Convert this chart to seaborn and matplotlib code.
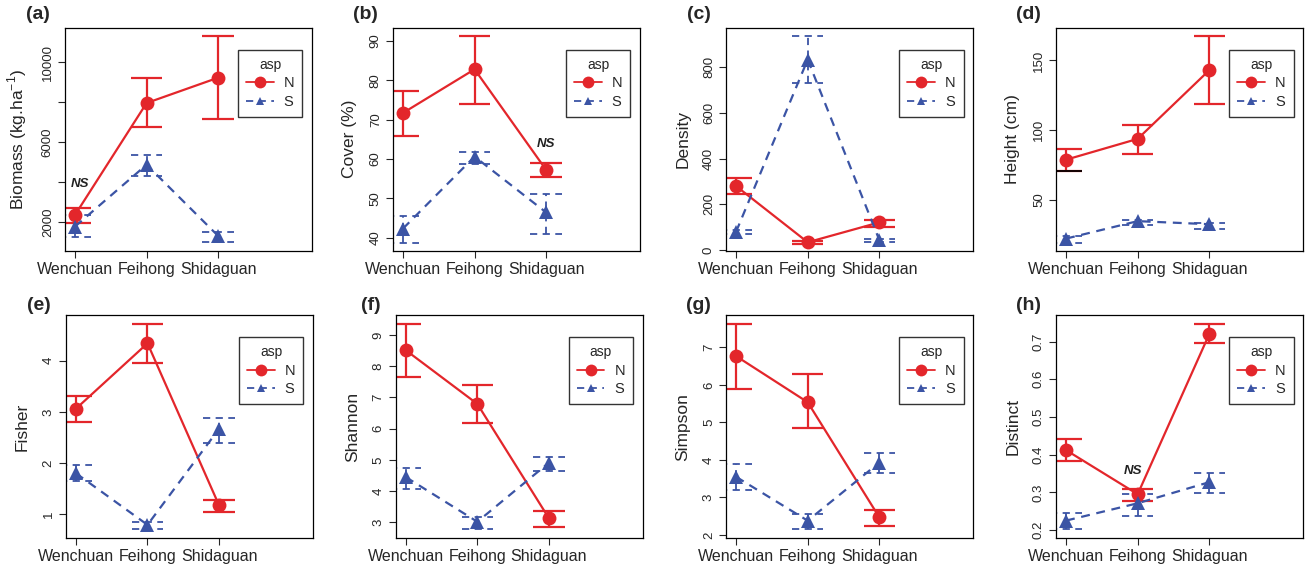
import numpy as np
import pandas as pd
import matplotlib
matplotlib.use("Agg")
import matplotlib.pyplot as plt
from matplotlib.lines import Line2D
import seaborn as sns

sns.set_style("ticks")
plt.rcParams["font.family"] = ["Liberation Sans", "DejaVu Sans"]
plt.rcParams["mathtext.fontset"] = "custom"
plt.rcParams["mathtext.rm"] = "Liberation Sans"

# ============================================================
# Data (means and error-bar ends)
# ============================================================
sites = ["Wenchuan", "Feihong", "Shidaguan"]

# (a) Biomass
biomass_n = [2350, 7960, 9230]
biomass_n_lo = [1965, 6760, 7160]
biomass_n_hi = [2720, 9200, 11340]
biomass_s = [1770, 4870, 1300]
biomass_s_lo = [1230, 4280, 985]
biomass_s_hi = [2350, 5370, 1515]

# (b) Cover
cover_n = [71.7, 82.8, 57.2]
cover_n_lo = [65.9, 74.1, 55.5]
cover_n_hi = [77.2, 91.3, 58.9]
cover_s = [42.3, 60.6, 46.4]
cover_s_lo = [38.7, 58.7, 41.0]
cover_s_hi = [45.5, 61.7, 51.0]

# (c) Density
density_n = [280, 34, 121]
density_n_lo = [244, 25, 100]
density_n_hi = [317, 41, 133]
density_s = [80, 834, 44]
density_s_lo = [71, 731, 34]
density_s_hi = [89, 937, 49]

# (d) Height
height_n = [78.9, 93.8, 143.0]
height_n_lo = [70.5, 83.0, 118.5]
height_n_hi = [86.8, 104.1, 167.4]
height_s = [22.4, 34.9, 32.7]
height_s_lo = [19.6, 32.0, 29.6]
height_s_hi = [24.0, 36.0, 33.5]

# (e) Fisher
fisher_n = [3.06, 4.34, 1.17]
fisher_n_lo = [2.80, 3.96, 1.05]
fisher_n_hi = [3.30, 4.71, 1.27]
fisher_s = [1.80, 0.79, 2.67]
fisher_s_lo = [1.64, 0.70, 2.40]
fisher_s_hi = [1.97, 0.84, 2.88]

# (f) Shannon
shannon_n = [8.51, 6.79, 3.13]
shannon_n_lo = [7.66, 6.17, 2.86]
shannon_n_hi = [9.34, 7.40, 3.37]
shannon_s = [4.45, 3.02, 4.91]
shannon_s_lo = [4.08, 2.78, 4.65]
shannon_s_hi = [4.75, 3.18, 5.10]

# (g) Simpson
simpson_n = [6.77, 5.54, 2.47]
simpson_n_lo = [5.90, 4.84, 2.24]
simpson_n_hi = [7.62, 6.28, 2.66]
simpson_s = [3.55, 2.38, 3.93]
simpson_s_lo = [3.19, 2.15, 3.65]
simpson_s_hi = [3.89, 2.56, 4.19]

# (h) Distinct
distinct_n = [0.412, 0.295, 0.720]
distinct_n_lo = [0.383, 0.277, 0.697]
distinct_n_hi = [0.441, 0.310, 0.747]
distinct_s = [0.225, 0.271, 0.327]
distinct_s_lo = [0.202, 0.237, 0.297]
distinct_s_hi = [0.246, 0.295, 0.352]

red = "#E3262B"
blue = "#3B54A5"
pal = {"N": red, "S": blue}
dash_s = (4, 3)

panels = [
    dict(tag="(a)", ylabel="Biomass (kg.ha$^{-1}$)", n=biomass_n, n_lo=biomass_n_lo, n_hi=biomass_n_hi,
         s=biomass_s, s_lo=biomass_s_lo, s_hi=biomass_s_hi, ylim=(545, 11740),
         yticks=[2000, 4000, 6000, 8000, 10000], yticklabels=["2000", "", "6000", "", "10000"],
         ns=(1.07, 3900)),
    dict(tag="(b)", ylabel="Cover (%)", n=cover_n, n_lo=cover_n_lo, n_hi=cover_n_hi,
         s=cover_s, s_lo=cover_s_lo, s_hi=cover_s_hi, ylim=(36.6, 93.4),
         yticks=[40, 50, 60, 70, 80, 90], ns=(3.0, 63.8)),
    dict(tag="(c)", ylabel="Density", n=density_n, n_lo=density_n_lo, n_hi=density_n_hi,
         s=density_s, s_lo=density_s_lo, s_hi=density_s_hi, ylim=(-4.4, 974),
         yticks=[0, 200, 400, 600, 800]),
    dict(tag="(d)", ylabel="Height (cm)", n=height_n, n_lo=height_n_lo, n_hi=height_n_hi,
         s=height_s, s_lo=height_s_lo, s_hi=height_s_hi, ylim=(13.5, 173.5),
         yticks=[50, 100, 150]),
    dict(tag="(e)", ylabel="Fisher", n=fisher_n, n_lo=fisher_n_lo, n_hi=fisher_n_hi,
         s=fisher_s, s_lo=fisher_s_lo, s_hi=fisher_s_hi, ylim=(0.527, 4.896),
         yticks=[1, 2, 3, 4]),
    dict(tag="(f)", ylabel="Shannon", n=shannon_n, n_lo=shannon_n_lo, n_hi=shannon_n_hi,
         s=shannon_s, s_lo=shannon_s_lo, s_hi=shannon_s_hi, ylim=(2.49, 9.64),
         yticks=[3, 4, 5, 6, 7, 8, 9]),
    dict(tag="(g)", ylabel="Simpson", n=simpson_n, n_lo=simpson_n_lo, n_hi=simpson_n_hi,
         s=simpson_s, s_lo=simpson_s_lo, s_hi=simpson_s_hi, ylim=(1.91, 7.87),
         yticks=[2, 3, 4, 5, 6, 7]),
    dict(tag="(h)", ylabel="Distinct", n=distinct_n, n_lo=distinct_n_lo, n_hi=distinct_n_hi,
         s=distinct_s, s_lo=distinct_s_lo, s_hi=distinct_s_hi, ylim=(0.178, 0.771),
         yticks=[0.2, 0.3, 0.4, 0.5, 0.6, 0.7], ns=(1.94, 0.357)),
]

# axes boxes in figure fractions [left, bottom, width, height]
lefts = [0.0495, 0.2995, 0.5534, 0.8049, 0.0502, 0.3016, 0.5534, 0.8049]
W, H = 0.1883, 0.3920
bottoms = [0.5596] * 4 + [0.0556] * 4

fig = plt.figure(figsize=(13.12, 5.70), dpi=100)

cap = 0.22
for i, p in enumerate(panels):
    ax = fig.add_axes([lefts[i], bottoms[i], W, H])
    df = pd.DataFrame({
        "site": sites * 2,
        "asp": ["N"] * 3 + ["S"] * 3,
        "mean": p["n"] + p["s"],
        "lo": p["n_lo"] + p["s_lo"],
        "hi": p["n_hi"] + p["s_hi"],
    })
    df["pos"] = df["site"].map({s: k + 1 for k, s in enumerate(sites)})

    # error bars
    for asp, g in df.groupby("asp"):
        ls = "-" if asp == "N" else (0, dash_s)
        lw = 1.6 if asp == "N" else 1.3
        ax.vlines(g["pos"], g["lo"], g["hi"], color=pal[asp], lw=lw, linestyles=[ls])
        ax.hlines(g["lo"], g["pos"] - cap, g["pos"] + cap, color=pal[asp], lw=lw, linestyles=[ls])
        ax.hlines(g["hi"], g["pos"] - cap, g["pos"] + cap, color=pal[asp], lw=lw, linestyles=[ls])

    sns.lineplot(data=df, x="pos", y="mean", hue="asp", style="asp", palette=pal,
                 markers={"N": "o", "S": "^"}, dashes={"N": "", "S": dash_s},
                 markersize=10, markeredgewidth=0, lw=1.6, legend=False, ax=ax)

    if p["tag"] == "(d)":
        # lower cap at Wenchuan is drawn in black in the original
        ax.hlines(height_n_lo[0], 1 - cap, 1 + cap, color="black", lw=1.3)

    ax.set_xlim(0.86, 4.31)
    ax.set_ylim(*p["ylim"])
    ax.set_xticks([1, 2, 3])
    ax.set_xticklabels(sites)
    ax.set_yticks(p["yticks"])
    if "yticklabels" in p:
        ax.set_yticklabels(p["yticklabels"])
    else:
        ax.set_yticklabels([f"{v:g}" for v in p["yticks"]])
    ax.tick_params(axis="x", labelsize=11.5, length=5, width=0.8, pad=3)
    ax.tick_params(axis="y", labelsize=9.5, length=5, width=0.8, pad=3, labelrotation=90)
    for lab in ax.get_yticklabels():
        lab.set_va("center")
    ax.set_xlabel("")
    ax.set_ylabel(p["ylabel"], fontsize=12.5)
    ax.yaxis.set_label_coords(-0.145, 0.5)
    for sp in ax.spines.values():
        sp.set_visible(True)
        sp.set_color("black")
        sp.set_linewidth(0.9)

    ax.text(-0.06, 1.06 if i < 4 else 1.04, p["tag"], transform=ax.transAxes,
            ha="right", va="center", fontsize=14, fontweight="bold")

    if "ns" in p:
        ax.text(p["ns"][0], p["ns"][1], "NS", ha="center", va="center",
                fontsize=9.5, fontweight="bold", fontstyle="italic", color="#222222")

    handles = [
        Line2D([], [], color=red, lw=1.3, marker="o", markersize=8.5, markeredgewidth=0),
        Line2D([], [], color=blue, lw=1.3, ls=(0, dash_s), marker="^", markersize=5.5, markeredgewidth=0),
    ]
    leg = ax.legend(handles, ["N", "S"], title="asp", loc="upper left",
                    bbox_to_anchor=(0.70, 0.90), frameon=True, fancybox=False,
                    edgecolor="black", fontsize=10.5, title_fontsize=10,
                    handlelength=1.9, handletextpad=0.7, borderpad=0.55,
                    labelspacing=0.3, borderaxespad=0)
    leg.get_frame().set_linewidth(1.0)

fig.savefig("out.png", dpi=100)
